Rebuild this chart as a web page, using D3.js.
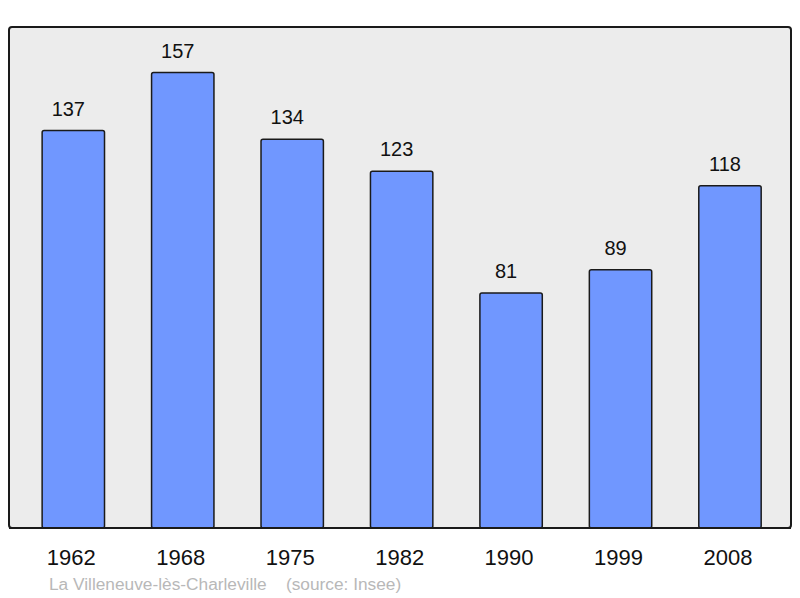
<!DOCTYPE html>
<html>
<head>
<meta charset="utf-8">
<script src="https://cdn.jsdelivr.net/npm/d3@7"></script>
<style>
  html, body { margin: 0; padding: 0; background: #fff; }
  svg { display: block; }
</style>
</head>
<body>
<svg id="chart" width="800" height="598"></svg>
<script>
const years = ["1962", "1968", "1975", "1982", "1990", "1999", "2008"];
const population = [137, 157, 134, 123, 81, 89, 118];
const footerText = "La Villeneuve-lès-Charleville    (source: Insee)";

const svg = d3.select("#chart");
const frame = { left: 9, top: 27, right: 791, bottom: 528 };

svg.append("rect")
  .attr("x", frame.left).attr("y", frame.top)
  .attr("width", frame.right - frame.left).attr("height", frame.bottom - frame.top)
  .attr("rx", 3).attr("ry", 3)
  .attr("fill", "#ececec").attr("stroke", "#1a1a1a").attr("stroke-width", 2);

const x = d3.scaleBand()
  .domain(years)
  .range([18.6, 784.7])
  .paddingInner(0.43)
  .paddingOuter(0.215);

const y = d3.scaleLinear()
  .domain([0, d3.max(population) * 1.1])
  .range([frame.bottom, frame.top]);

const data = years.map((yr, i) => ({ year: yr, value: population[i] }));

svg.selectAll("rect.bar").data(data).enter().append("rect")
  .attr("class", "bar")
  .attr("x", d => x(d.year))
  .attr("y", d => y(d.value))
  .attr("width", x.bandwidth())
  .attr("height", d => y(0) - y(d.value))
  .attr("rx", 2).attr("ry", 2)
  .attr("fill", "#7097ff").attr("stroke", "#1a1a1a").attr("stroke-width", 1.5);

svg.selectAll("text.val").data(data).enter().append("text")
  .attr("class", "val")
  .attr("x", d => x(d.year) + x.bandwidth() / 2 - 5)
  .attr("y", d => y(d.value) - 15)
  .attr("text-anchor", "middle")
  .attr("font-family", "Liberation Sans, Arial, sans-serif")
  .attr("font-size", 20)
  .attr("fill", "#111")
  .text(d => d.value);

svg.append("line")
  .attr("x1", frame.left).attr("x2", frame.right)
  .attr("y1", frame.bottom).attr("y2", frame.bottom)
  .attr("stroke", "#1a1a1a").attr("stroke-width", 2);

const xAxis = d3.axisBottom(x).tickSize(0).tickPadding(0);
const gx = svg.append("g").attr("transform", `translate(0,${frame.bottom})`).call(xAxis);
gx.select(".domain").remove();
gx.selectAll("text")
  .attr("dy", null)
  .attr("x", -2)
  .attr("y", 37)
  .attr("font-family", "Liberation Sans, Arial, sans-serif")
  .attr("font-size", 22)
  .attr("fill", "#111");

svg.append("text")
  .attr("x", 49).attr("y", 590)
  .attr("font-family", "Liberation Sans, Arial, sans-serif")
  .attr("font-size", 17.3)
  .attr("fill", "#b8b8b8")
  .style("white-space", "pre")
  .text(footerText);
</script>
</body>
</html>
